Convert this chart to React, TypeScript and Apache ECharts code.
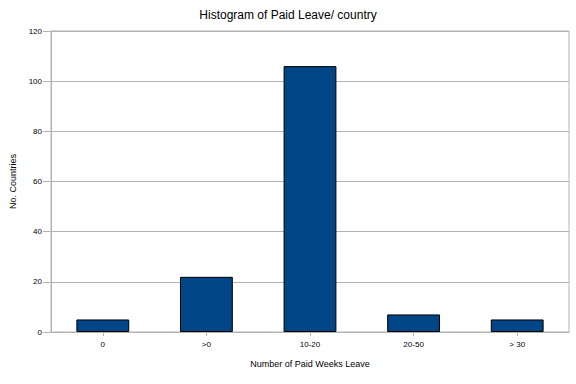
import React, { useEffect, useRef } from "react";
import * as echarts from "echarts";

const categories = ["0", ">0", "10-20", "20-50", "> 30"];
const counts = [5, 22, 106, 7, 5];
const yTicks = [0, 20, 40, 60, 80, 100, 120];

export default function App() {
  const ref = useRef<HTMLDivElement>(null);
  useEffect(() => {
    if (!ref.current) return;
    const chart = echarts.init(ref.current, null, { renderer: "svg" });
    const font = "Liberation Sans, Arial, sans-serif";
    chart.setOption({
      animation: false,
      backgroundColor: "#ffffff",
      textStyle: { fontFamily: font },
      title: {
        text: "Histogram of Paid Leave/ country",
        left: "center",
        top: 4,
        textStyle: { fontSize: 12, fontWeight: "normal", color: "#000", fontFamily: font },
      },
      grid: { left: 45, right: 7, top: 31, bottom: 52, show: true, borderColor: "#b3b3b3", borderWidth: 1 },
      xAxis: {
        type: "category",
        data: categories,
        name: "Number of Paid Weeks Leave",
        nameLocation: "middle",
        nameGap: 27,
        nameTextStyle: { fontSize: 9, color: "#000", fontFamily: font },
        axisLine: { lineStyle: { color: "#b3b3b3" } },
        axisTick: { show: true, alignWithLabel: true, length: 4, lineStyle: { color: "#b3b3b3" } },
        axisLabel: { fontSize: 8, color: "#000", margin: 8, fontFamily: font },
      },
      yAxis: {
        type: "value",
        min: yTicks[0],
        max: yTicks[yTicks.length - 1],
        interval: 20,
        name: "No. Countries",
        nameLocation: "middle",
        nameGap: 34,
        nameTextStyle: { fontSize: 9, color: "#000", fontFamily: font },
        axisLine: { show: true, lineStyle: { color: "#b3b3b3" } },
        axisTick: { show: true, length: 8, lineStyle: { color: "#b3b3b3" } },
        axisLabel: { fontSize: 8, color: "#000", margin: 9, fontFamily: font },
        splitLine: { show: true, lineStyle: { color: "#b3b3b3" } },
      },
      series: [
        {
          type: "bar",
          data: counts,
          barWidth: "51%",
          itemStyle: { color: "#004586", borderColor: "#000000", borderWidth: 1 },
        },
      ],
    });
    return () => chart.dispose();
  }, []);
  return <div ref={ref} style={{ width: 576, height: 384, position: "absolute", left: 0, top: 0 }} />;
}
